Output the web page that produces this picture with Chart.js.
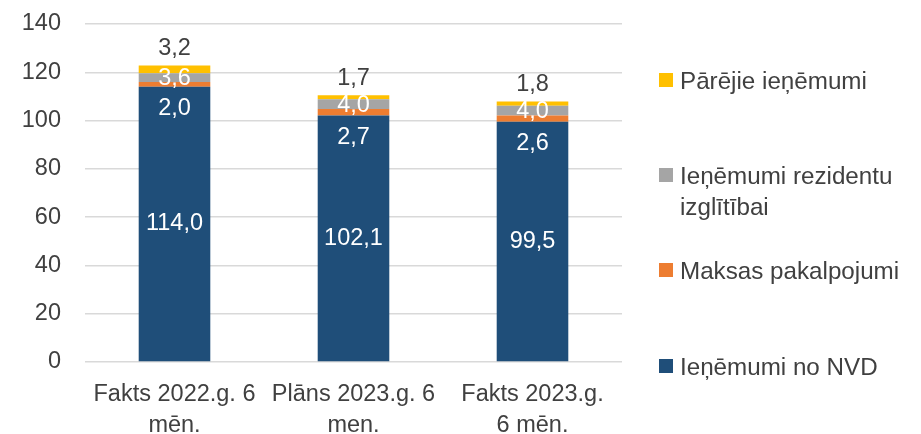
<!DOCTYPE html>
<html>
<head>
<meta charset="utf-8">
<script src="https://cdn.jsdelivr.net/npm/chart.js@4.4.0/dist/chart.umd.min.js"></script>
<style>
  html, body { margin: 0; padding: 0; background: #fff; }
  #wrap { position: relative; width: 921px; height: 434px; }
  #legend { position: absolute; left: 0; top: 0; width: 921px; height: 434px; pointer-events: none;
    font-family: "Liberation Sans", Arial, sans-serif; font-size: 24.2px; color: #404040; }
  .li { position: absolute; left: 659px; }
  .sw { position: absolute; left: 0; width: 14px; height: 14px; }
  .tx { position: absolute; left: 21px; white-space: nowrap; line-height: 31px; }
</style>
</head>
<body>
<div id="wrap">
  <canvas id="c" width="921" height="434"></canvas>
  <div id="legend"></div>
</div>
<script>
const categories = [["Fakts 2022.g. 6", "mēn."], ["Plāns 2023.g. 6", "men."], ["Fakts 2023.g.", "6 mēn."]];
const seriesNames = ["Ieņēmumi no NVD", "Maksas pakalpojumi", "Ieņēmumi rezidentu izglītībai", "Pārējie ieņēmumi"];
const nvd = [114.0, 102.1, 99.5];
const maksas = [2.0, 2.7, 2.6];
const rezidentu = [3.6, 4.0, 4.0];
const parejie = [3.2, 1.7, 1.8];
const yTicks = [0, 20, 40, 60, 80, 100, 120, 140];
const colors = ["#1F4E79", "#ED7D31", "#A5A5A5", "#FFC000"];

const FONT = "'Liberation Sans', Arial, sans-serif";
const TEXT = "#404040";

const fmt = v => v.toFixed(1).replace('.', ',');

const labelPlugin = {
  id: 'labels',
  afterDatasetsDraw(chart) {
    const ctx = chart.ctx;
    ctx.save();
    ctx.font = "23.5px " + FONT;
    ctx.textAlign = 'center';
    ctx.textBaseline = 'middle';
    chart.data.datasets.forEach((ds, di) => {
      const meta = chart.getDatasetMeta(di);
      meta.data.forEach((el, i) => {
        const v = ds.data[i];
        const top = el.y, base = el.base;
        let y, col = '#ffffff';
        if (di === 0) y = (top + base) / 2;
        else if (di === 1) y = base + 22;
        else if (di === 2) y = (top + base) / 2 + 1;
        else { y = top - 17; col = TEXT; }
        ctx.fillStyle = col;
        ctx.fillText(fmt(v), el.x, y);
      });
    });
    ctx.restore();
  }
};

const series = [nvd, maksas, rezidentu, parejie];
new Chart(document.getElementById('c'), {
  type: 'bar',
  data: {
    labels: categories,
    datasets: series.map((d, i) => ({
      label: seriesNames[i],
      data: d,
      backgroundColor: colors[i],
      borderWidth: 0,
      categoryPercentage: 1.0,
      barPercentage: 0.4
    }))
  },
  options: {
    responsive: false,
    animation: false,
    layout: { padding: { left: 0, right: 299, top: 24, bottom: 0 } },
    plugins: { legend: { display: false }, tooltip: { enabled: false } },
    scales: {
      x: {
        stacked: true,
        grid: { display: false, drawTicks: false },
        border: { display: false },
        ticks: { color: TEXT, font: { family: FONT, size: 23.5, lineHeight: 1.33 }, padding: 17, maxRotation: 0, autoSkip: false },
        afterFit(s) { s.height = 72; }
      },
      y: {
        stacked: true,
        min: 0, max: 140,
        afterBuildTicks(s) { s.ticks = yTicks.map(v => ({ value: v })); },
        grid: { color: '#D9D9D9', lineWidth: 1.5, drawTicks: false },
        border: { display: false },
        ticks: { color: TEXT, font: { family: FONT, size: 23.5 }, padding: 24 },
        afterFit(s) { s.width = 85; s.paddingTop = 0; s.paddingBottom = 0; }
      }
    }
  },
  plugins: [labelPlugin]
});

// HTML legend (reverse order, top = last series)
const legendItems = [
  { idx: 3, top: 73, lines: ["Pārējie ieņēmumi"] },
  { idx: 2, top: 168, lines: ["Ieņēmumi rezidentu", "izglītībai"] },
  { idx: 1, top: 263, lines: ["Maksas pakalpojumi"] },
  { idx: 0, top: 359, lines: ["Ieņēmumi no NVD"] }
];
const lg = document.getElementById('legend');
legendItems.forEach(it => {
  const d = document.createElement('div');
  d.className = 'li';
  d.style.top = it.top + 'px';
  const sw = document.createElement('div');
  sw.className = 'sw';
  sw.style.background = colors[it.idx];
  d.appendChild(sw);
  const tx = document.createElement('div');
  tx.className = 'tx';
  tx.style.top = '-8px';
  tx.innerHTML = it.lines.join('<br>');
  d.appendChild(tx);
  lg.appendChild(d);
});
</script>
</body>
</html>
